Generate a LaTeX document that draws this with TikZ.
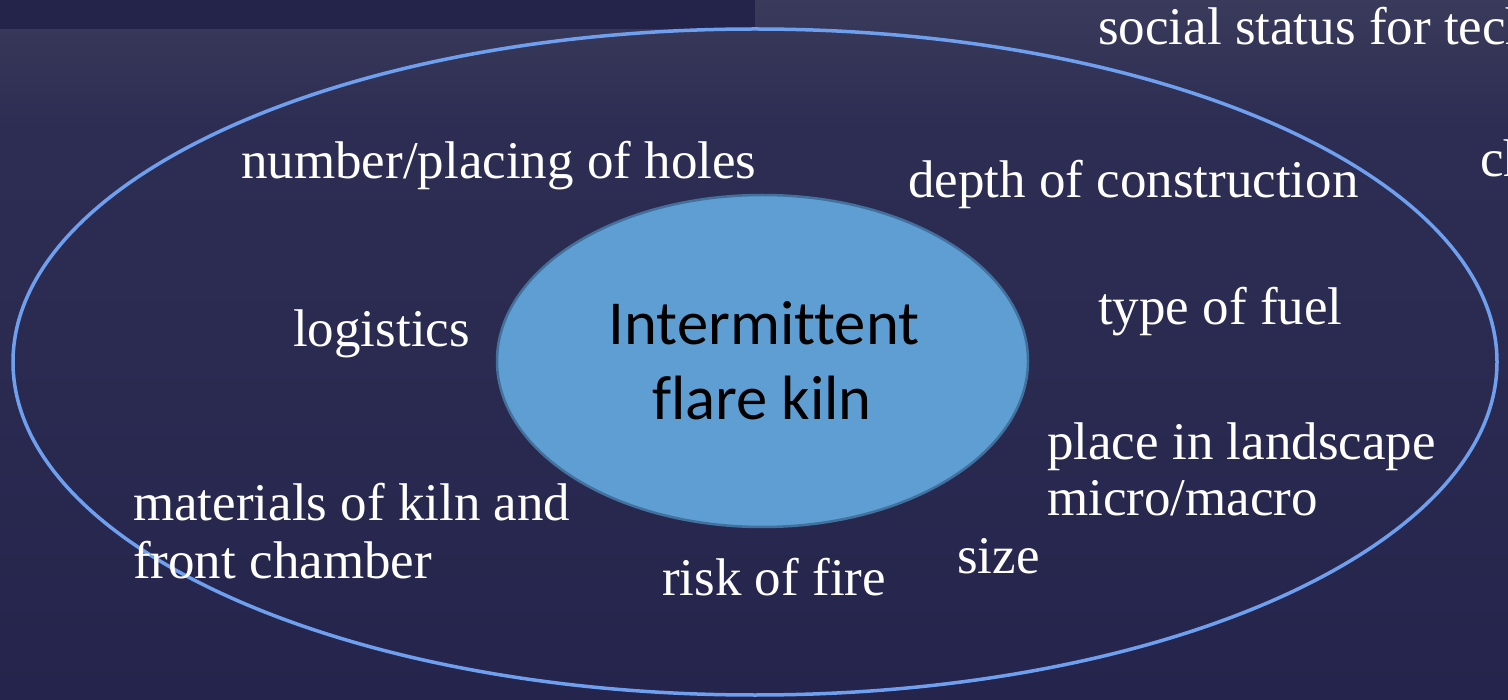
\documentclass[tikz,border=0pt]{standalone}
\usepackage{fontspec}
\setmainfont{Liberation Serif}
\newfontfamily\calibri[Ligatures=NoCommon]{Carlito}
\definecolor{bgtop}{HTML}{3A3A5B}
\definecolor{bgmid}{HTML}{2B2B52}
\definecolor{bgbot}{HTML}{24244C}
\definecolor{strip}{HTML}{24244B}
\definecolor{outerline}{HTML}{6FA0F0}
\definecolor{innerfill}{HTML}{5F9ED2}
\definecolor{innerline}{HTML}{41719C}
\pgfdeclareverticalshading{bgshade}{100bp}{color(0bp)=(bgbot); color(25bp)=(bgbot); color(50bp)=(bgmid); color(66bp)=(bgmid!85!bgtop); color(75bp)=(bgtop); color(100bp)=(bgtop)}
\tikzset{
  lbl/.style={anchor=base west, inner sep=0pt, text=white, font=\fontsize{53}{60}\selectfont},
  core/.style={ellipse, draw=innerline, line width=2.5pt, fill=innerfill, inner sep=0pt},
  coretext/.style={anchor=base, inner sep=0pt, font=\calibri\fontsize{62.6}{75}\selectfont, text=black},
}
\usetikzlibrary{shapes.geometric}
\begin{document}
\begin{tikzpicture}[x=1pt,y=-1pt]
\useasboundingbox (0,0) rectangle (1508,700);
\clip (0,0) rectangle (1508,700);
\shade[shading=bgshade] (0,0) rectangle (1508,700);
\fill[strip] (0,0) rectangle (755,29);
% outer ellipse
\draw[outerline, line width=3.5pt] (755,362) ellipse [x radius=742, y radius=333];
% inner ellipse
\node[core, minimum width=531pt, minimum height=332pt] (kiln) at (762.5,361) {};
\node[coretext] (k1) at (764,345) {Intermittent};
\node[coretext] (k2) at (762,420) {flare kiln};
% labels
\node[lbl] (social) at (1098,45) {social status for tech};
\node[lbl] (ch) at (1480,177) {ch};
\node[lbl] (holes) at (241,179) {number/placing of holes};
\node[lbl] (depth) at (908,198) {depth of construction};
\node[lbl] (logistics) at (293,347) {logistics};
\node[lbl] (fuel) at (1098,325) {type of fuel};
\node[lbl] (place) at (1047,460) {place in landscape};
\node[lbl] (micro) at (1047,515) {micro/macro};
\node[lbl] (mat) at (133,520) {materials of kiln and};
\node[lbl] (front) at (133,578) {front chamber};
\node[lbl] (size) at (957,573) {size};
\node[lbl] (risk) at (662,595) {risk of fire};
\end{tikzpicture}
\end{document}
